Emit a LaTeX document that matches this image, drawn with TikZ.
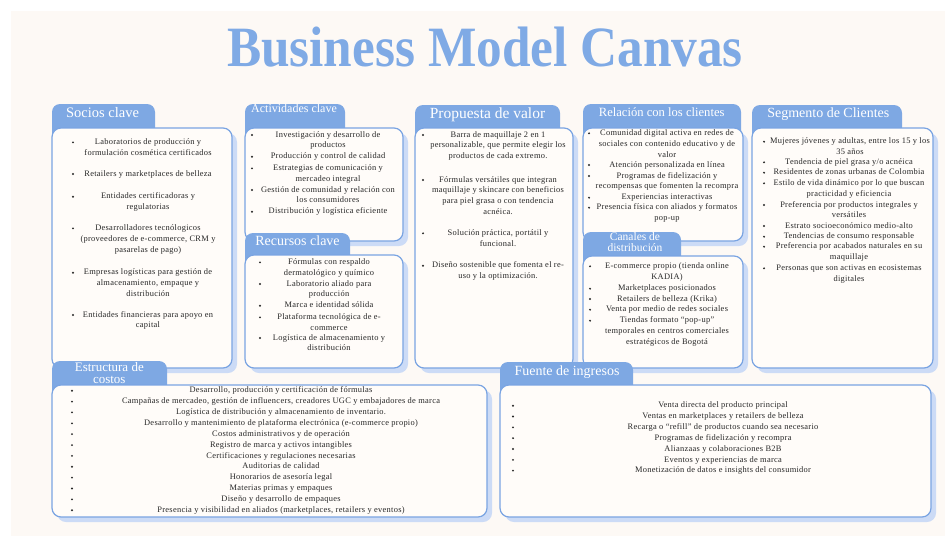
\documentclass[tikz,border=0pt]{standalone}
\usepackage{fontspec}
\setmainfont{Liberation Serif}
\newfontfamily\itemfamily[LetterSpace=3.5]{Liberation Serif}
\newfontfamily\titlefamily{Liberation Serif}

\definecolor{pagebg}{HTML}{FDF9F5}
\definecolor{boxfill}{HTML}{FFFCF9}
\definecolor{tabc}{HTML}{7EA8E3}
\definecolor{edgec}{HTML}{7AA4E2}
\definecolor{shadowc}{HTML}{CCDBF6}
\definecolor{titlec}{HTML}{7FAAE5}
\definecolor{inkc}{HTML}{262626}

\tikzset{
  itemtext/.style={font=\itemfamily\fontsize{8.4}{10.8}\selectfont, align=center, inner sep=0pt, text=inkc},
  tablabel/.style={text=white, inner sep=0pt, align=center},
  boxbody/.style={draw=edgec, line width=1.2pt, fill=boxfill, rounded corners=9pt},
  boxshadow/.style={fill=shadowc, rounded corners=9pt},
  boxtab/.style={fill=tabc, rounded corners=8pt},
}

% #1 x1, #2 y1, #3 x2, #4 y2 of the body, #5 right edge of the tab, #6 top of the tab
\newcommand\bmcblock[6]{%
  \fill[boxshadow] (#1+5,#2+5) rectangle (#3+5,#4+5);
  \fill[boxtab] (#1,#6) rectangle (#5,#2+14);
  \draw[boxbody] (#1,#2) rectangle (#3,#4);
}

% #1 name, #2 bullet x, #3 text centre x, #4 first line y, #5 text
\newcommand\bitem[5]{%
  \fill[inkc] (#2,#4) circle (1.05);
  \node[itemtext, anchor=north] (#1) at (#3,#4-5.6) {\strut #5};
}

\begin{document}
\begin{tikzpicture}[x=1pt, y=-1pt]
\useasboundingbox (0,0) rectangle (945,536);
\fill[white] (0,0) rectangle (945,536);
\fill[pagebg] (11,11) rectangle (945,536);

% title
\node[anchor=base, inner sep=0pt, text=titlec] (title) at (485,66)
  {\scalebox{0.9}[1]{\titlefamily\bfseries\fontsize{57}{60}\selectfont Business Model Canvas}};

% top row
\bmcblock{52}{128}{232}{368}{155}{104}
\bmcblock{245}{128}{403}{241}{345}{104}
\bmcblock{415}{128}{573}{368}{560}{105}
\bmcblock{583}{128}{743}{241}{741}{104}
\bmcblock{752}{128}{933}{368}{902}{105}
% second blocks in the middle columns
\bmcblock{245}{255}{403}{368}{350}{233}
\bmcblock{583}{256}{743}{368}{681}{232}
% bottom row
\bmcblock{52}{385}{487}{517}{167}{361}
\bmcblock{500}{385}{931}{517}{633}{362}

% block titles
\node[tablabel, anchor=base, font=\fontsize{14.5}{16}\selectfont] (socios) at (102.5,117.3) {Socios clave};
\node[tablabel, anchor=base, font=\fontsize{12}{14}\selectfont] (actividades) at (294,112.8) {Actividades clave};
\node[tablabel, anchor=base, font=\fontsize{14}{16}\selectfont] (recursos) at (297.5,245.2) {Recursos clave};
\node[tablabel, anchor=base, font=\fontsize{15.5}{17}\selectfont] (propuesta) at (487.5,118.6) {Propuesta de valor};
\node[tablabel, anchor=base, font=\fontsize{12.6}{14}\selectfont] (relacion) at (661.7,116.9) {Relación con los clientes};
\node[tablabel, font=\fontsize{11.5}{11}\selectfont] (canales) at (635,242) {Canales de\\distribución};
\node[tablabel, anchor=base, font=\fontsize{14}{16}\selectfont] (segmento) at (828.3,117.2) {Segmento de Clientes};
\node[tablabel, font=\fontsize{13}{12}\selectfont] (costos) at (109.3,373) {Estructura de\\costos};
\node[tablabel, anchor=base, font=\fontsize{14}{16}\selectfont] (ingresos) at (567,375.5) {Fuente de ingresos};

% Socios clave
\bitem{soc1}{73}{148}{142.3}{Laboratorios de producción y\\formulación cosmética certificados}
\bitem{soc2}{73}{148}{174}{Retailers y marketplaces de belleza}
\bitem{soc3}{73}{148}{196.7}{Entidades certificadoras y\\regulatorias}
\bitem{soc4}{73}{148}{228.3}{Desarrolladores tecnólogicos\\(proveedores de e-commerce, CRM y\\pasarelas de pago)}
\bitem{soc5}{73}{148}{272.7}{Empresas logísticas para gestión de\\almacenamiento, empaque y\\distribución}
\bitem{soc6}{73}{148}{315}{Entidades financieras para apoyo en\\capital}

% Actividades clave
\bitem{act1}{252}{328}{135}{Investigación y desarrollo de\\productos}
\bitem{act2}{252}{328}{156.7}{Producción y control de calidad}
\bitem{act3}{252}{328}{168.3}{Estrategias de comunicación y\\mercadeo integral}
\bitem{act4}{252}{328}{190}{Gestión de comunidad y relación con\\los consumidores}
\bitem{act5}{252}{328}{211.7}{Distribución y logística eficiente}

% Recursos clave
\bitem{rec1}{260}{329}{262.3}{Fórmulas con respaldo\\dermatológico y químico}
\bitem{rec2}{260}{329}{284}{Laboratorio aliado para\\producción}
\bitem{rec3}{260}{329}{305.7}{Marca e identidad sólida}
\bitem{rec4}{260}{329}{317.3}{Plataforma tecnológica de e-\\commerce}
\bitem{rec5}{260}{329}{338}{Logística de almacenamiento y\\distribución}

% Propuesta de valor
\bitem{pro1}{423}{498}{135}{Barra de maquillaje 2 en 1\\personalizable, que permite elegir los\\productos de cada extremo.}
\bitem{pro2}{423}{498}{180}{Fórmulas versátiles que integran\\maquillaje y skincare con beneficios\\para piel grasa o con tendencia\\acnéica.}
\bitem{pro3}{423}{498}{233.3}{Solución práctica, portátil y\\funcional.}
\bitem{pro4}{423}{498}{265.7}{Diseño sostenible que fomenta el re-\\uso y la optimización.}

% Relacion con los clientes
\bitem{rel1}{589}{667}{133.3}{Comunidad digital activa en redes de\\sociales con contenido educativo y de\\valor}
\bitem{rel2}{589}{667}{165}{Atención personalizada en línea}
\bitem{rel3}{589}{667}{176}{Programas de fidelización y\\recompensas que fomenten la recompra}
\bitem{rel4}{589}{667}{197.7}{Experiencias interactivas}
\bitem{rel5}{589}{667}{207.7}{Presencia física con aliados y formatos\\pop-up}

% Canales de distribucion
\bitem{can1}{590}{667}{266.3}{E-commerce propio (tienda online\\KADIA)}
\bitem{can2}{590}{667}{288.7}{Marketplaces posicionados}
\bitem{can3}{590}{667}{299}{Retailers de belleza (Krika)}
\bitem{can4}{590}{667}{309.7}{Venta por medio de redes sociales}
\bitem{can5}{590}{667}{320.7}{Tiendas formato “pop-up”\\temporales en centros comerciales\\estratégicos de Bogotá}

% Segmento de clientes
\bitem{seg1}{764}{850}{141.7}{Mujeres jóvenes y adultas, entre los 15 y los\\35 años}
\bitem{seg2}{764}{849}{162.3}{Tendencia de piel grasa y/o acnéica}
\bitem{seg3}{764}{849}{172.7}{Residentes de zonas urbanas de Colombia}
\bitem{seg4}{764}{849}{183.3}{Estilo de vida dinámico por lo que buscan\\practicidad y eficiencia}
\bitem{seg5}{764}{849}{205}{Preferencia por productos integrales y\\versátiles}
\bitem{seg6}{764}{849}{226}{Estrato socioeconómico medio-alto}
\bitem{seg7}{764}{849}{236.7}{Tendencias de consumo responsable}
\bitem{seg8}{764}{849}{246.7}{Preferencia por acabados naturales en su\\maquillaje}
\bitem{seg9}{764}{849}{268.3}{Personas que son activas en ecosistemas\\digitales}

% Estructura de costos
\foreach \t [count=\i] in {
  {Desarrollo, producción y certificación de fórmulas},
  {Campañas de mercadeo, gestión de influencers, creadores UGC y embajadores de marca},
  {Logística de distribución y almacenamiento de inventario.},
  {Desarrollo y mantenimiento de plataforma electrónica (e-commerce propio)},
  {Costos administrativos y de operación},
  {Registro de marca y activos intangibles},
  {Certificaciones y regulaciones necesarias},
  {Auditorias de calidad},
  {Honorarios de asesoría legal},
  {Materias primas y empaques},
  {Diseño y desarrollo de empaques},
  {Presencia y visibilidad en aliados (marketplaces, retailers y eventos)}} {
  \pgfmathsetmacro\yy{390.7+10.87*(\i-1)}
  \bitem{cost\i}{72}{281}{\yy}{\t}
}

% Fuente de ingresos
\foreach \t [count=\i] in {
  {Venta directa del producto principal},
  {Ventas en marketplaces y retailers de belleza},
  {Recarga o “refill” de productos cuando sea necesario},
  {Programas de fidelización y recompra},
  {Alianzaas y colaboraciones B2B},
  {Eventos y experiencias de marca},
  {Monetización de datos e insights del consumidor}} {
  \pgfmathsetmacro\yy{405.7+10.83*(\i-1)}
  \bitem{inc\i}{513}{723}{\yy}{\t}
}
\end{tikzpicture}
\end{document}
